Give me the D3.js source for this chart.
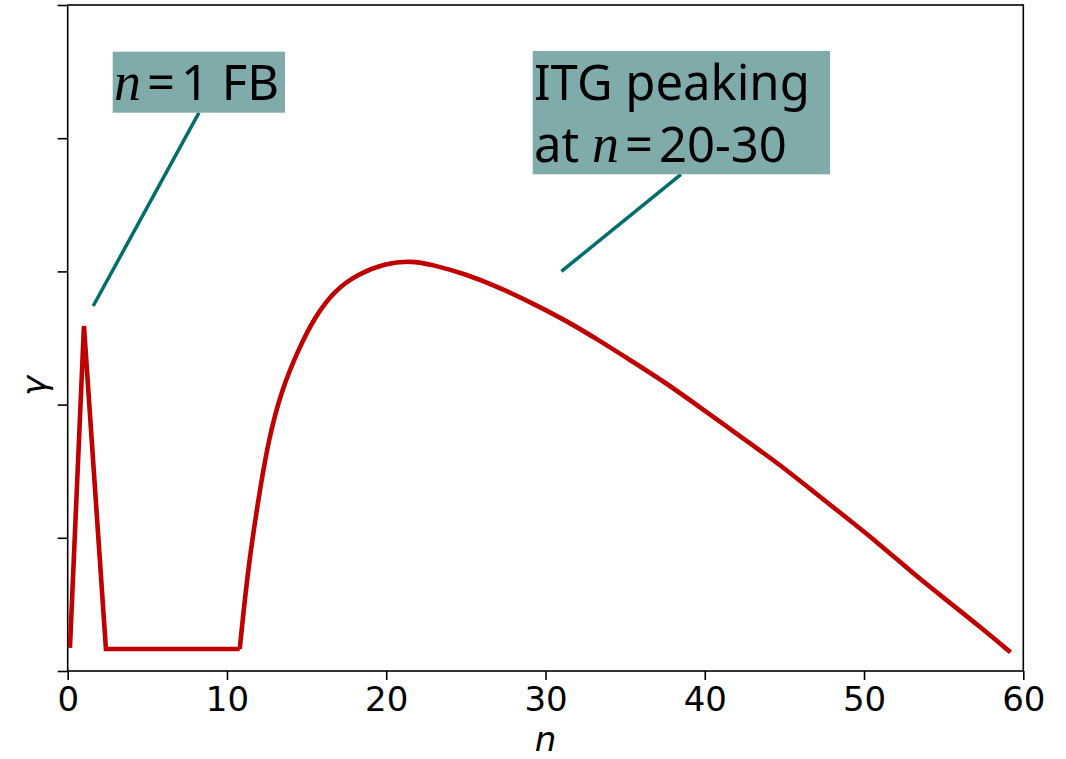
<!DOCTYPE html>
<html><head><meta charset="utf-8">
<script src="https://cdn.jsdelivr.net/npm/d3@7"></script>
<style>body{margin:0;background:#fff}svg{display:block}</style>
</head><body>
<svg id="c" width="1066" height="759"></svg>
<script>
const nValues = [0.14, 1.02, 2.4, 10.8, 11.33, 11.96, 12.59, 13.43, 14.47, 15.52, 16.78, 18.22, 19.9, 21.57, 22.9, 25.0, 27.1, 29.2, 31.3, 33.4, 35.5, 37.6, 39.7, 42.6, 44.7, 46.8, 48.9, 51.0, 53.1, 55.2, 57.3, 59.2];
const gammaValues = [0.173, 2.59, 0.165, 0.165, 0.78, 1.28, 1.73, 2.11, 2.41, 2.66, 2.86, 2.98, 3.06, 3.08, 3.05, 2.98, 2.88, 2.76, 2.63, 2.48, 2.32, 2.16, 1.98, 1.73, 1.55, 1.35, 1.15, 0.95, 0.73, 0.53, 0.33, 0.14];
const xTicks = [0, 10, 20, 30, 40, 50, 60];
const yTicks = [0, 1, 2, 3, 4, 5];
const xLabel = "n";
const yLabel = "γ";
const annotations = [
  {lines: [[{t:"n", math:true}, {t:"=", op:true}, {t:"1 FB", after:true}]], n: 1.6, g: 2.74},
  {lines: [[{t:"ITG peaking"}], [{t:"at "}, {t:"n", math:true}, {t:"=", op:true}, {t:"20-30", after:true}]], n: 31.0, g: 3.0}
];

const svg = d3.select("#c");
const L = 67.7, R = 1023.3, T = 5, B = 671;
const x = d3.scaleLinear().domain([0, 60]).range([L, R]);
const y = d3.scaleLinear().domain([0, 5]).range([B, T]);

svg.append("rect").attr("x", L).attr("y", T).attr("width", R - L).attr("height", B - T)
  .attr("fill", "none").attr("stroke", "#000").attr("stroke-width", 1.6);

const xa = svg.append("g").attr("transform", `translate(0,${B})`)
  .call(d3.axisBottom(x).tickValues(xTicks).tickSize(9).tickPadding(7).tickFormat(d3.format("d")));
xa.select(".domain").remove();
xa.selectAll("line").attr("stroke", "#000").attr("stroke-width", 1.6);
xa.selectAll("text").attr("font-family", "DejaVu Sans").attr("font-size", 34).attr("fill", "#000");

const ya = svg.append("g").attr("transform", `translate(${L},0)`)
  .call(d3.axisLeft(y).tickValues(yTicks).tickSize(10).tickFormat(""));
ya.select(".domain").remove();
ya.selectAll("line").attr("stroke", "#000").attr("stroke-width", 1.6);

svg.append("text").attr("x", (L + R) / 2).attr("y", 751).attr("text-anchor", "middle")
  .attr("font-family", "DejaVu Sans").attr("font-style", "italic").attr("font-size", 34).text(xLabel);
svg.append("text").attr("transform", "translate(46,386) rotate(-90)").attr("text-anchor", "middle")
  .attr("font-family", "DejaVu Sans").attr("font-style", "italic").attr("font-size", 34).text(yLabel);

// curve: sharp segments for the FB spike, smooth for the ITG branch
const pts = nValues.map((n, i) => [n, gammaValues[i]]);
const lineLin = d3.line().x(d => x(d[0])).y(d => y(d[1]));
const lineSm = d3.line().x(d => x(d[0])).y(d => y(d[1])).curve(d3.curveBasis);
svg.append("path").datum(pts.slice(0, 4)).attr("d", lineLin)
  .attr("fill", "none").attr("stroke", "#c00000").attr("stroke-width", 4.6).attr("stroke-linejoin", "miter");
svg.append("path").datum(pts.slice(3)).attr("d", lineSm)
  .attr("fill", "none").attr("stroke", "#c00000").attr("stroke-width", 4.6).attr("stroke-linejoin", "miter");

// annotations
const boxes = [
  {x0: 112.7, y0: 51.7, x1: 285, y1: 112.7, tx: 114, base: [100], lx: 199, ly: 112.7},
  {x0: 532.7, y0: 51, x1: 830, y1: 174.3, tx: 534, base: [100, 161.7], lx: 681, ly: 174.3}
];
annotations.forEach((a, i) => {
  const b = boxes[i];
  svg.append("line").attr("x1", b.lx).attr("y1", b.ly).attr("x2", x(a.n)).attr("y2", y(a.g))
    .attr("stroke", "#006e6b").attr("stroke-width", 3.5);
  svg.append("rect").attr("x", b.x0).attr("y", b.y0).attr("width", b.x1 - b.x0).attr("height", b.y1 - b.y0)
    .attr("fill", "#80abab");
  a.lines.forEach((ln, j) => {
    const t = svg.append("text").attr("x", b.tx).attr("y", b.base[j])
      .attr("font-family", "Noto Sans").attr("font-size", 49).attr("fill", "#000");
    ln.forEach(p => {
      const s = t.append("tspan").text(p.t);
      if (p.math) s.attr("font-family", "Liberation Serif").attr("font-style", "italic").attr("font-size", 54);
      if (p.op) s.attr("dx", 6);
      if (p.after) s.attr("dx", 6);
    });
  });
});
</script>
</body></html>
